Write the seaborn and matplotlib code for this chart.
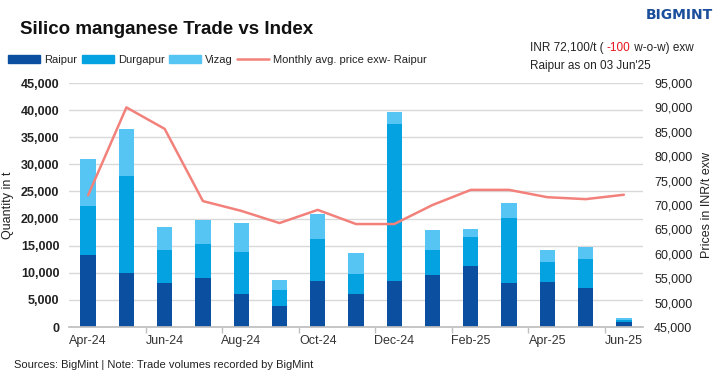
import seaborn as sns
import pandas as pd
import matplotlib.pyplot as plt
from matplotlib.patches import Patch
from matplotlib.lines import Line2D
from matplotlib.ticker import FuncFormatter

months = ["Apr-24", "May-24", "Jun-24", "Jul-24", "Aug-24", "Sep-24", "Oct-24", "Nov-24",
          "Dec-24", "Jan-25", "Feb-25", "Mar-25", "Apr-25", "May-25", "Jun-25"]
raipur = [13300, 10000, 8100, 9000, 6100, 3900, 8500, 6100, 8500, 9600, 11300, 8100, 8300, 7200, 1000]
durgapur = [9000, 17900, 6100, 6300, 7700, 2900, 7700, 3700, 29000, 4600, 5300, 12000, 3700, 5300, 300]
vizag = [8700, 8600, 4300, 4400, 5400, 1900, 4600, 3900, 2200, 3700, 1500, 2800, 2200, 2300, 300]
price = [72000, 90000, 85600, 70800, 68800, 66300, 69000, 66100, 66100, 70000, 73100, 73100, 71600, 71200, 72100]

c_raipur = "#0A4FA0"
c_durg = "#04A2E0"
c_vizag = "#56C5F3"
c_line = "#F3817B"

sns.set_theme(style="white")
plt.rcParams["font.family"] = ["Liberation Sans", "DejaVu Sans"]

df = pd.DataFrame({"month": months, "raipur": raipur, "durgapur": durgapur, "vizag": vizag, "price": price})
df["rd"] = df["raipur"] + df["durgapur"]
df["total"] = df["rd"] + df["vizag"]

fig = plt.figure(figsize=(7.2, 3.77), dpi=100)
ax = fig.add_axes([69 / 720, 1 - 327 / 377, (643 - 69) / 720, (327 - 83) / 377])

sns.barplot(data=df, x="month", y="total", color=c_vizag, width=0.4, saturation=1, linewidth=0, ax=ax)
sns.barplot(data=df, x="month", y="rd", color=c_durg, width=0.4, saturation=1, linewidth=0, ax=ax)
sns.barplot(data=df, x="month", y="raipur", color=c_raipur, width=0.4, saturation=1, linewidth=0, ax=ax)

ax.set_ylim(0, 45000)
ax.set_yticks(range(0, 45001, 5000))
ax.yaxis.set_major_formatter(FuncFormatter(lambda v, p: f"{int(v):,}"))
ax.grid(axis="y", color="#d9d9d9", linewidth=1)
ax.set_axisbelow(True)
for s in ["top", "right", "left"]:
    ax.spines[s].set_visible(False)
ax.spines["bottom"].set_color("#bfbfbf")
ax.set_xlim(-0.5, len(months) - 0.5)
ax.set_xticks(range(0, len(months), 2))
ax.set_xticklabels(months[::2])
ax.set_xticks([i + 1.5 for i in range(0, len(months) - 2, 2)], minor=True)
ax.tick_params(axis="x", which="major", length=0, labelsize=9, colors="#333333", pad=6)
ax.tick_params(axis="x", which="minor", length=4, color="#bfbfbf", bottom=True)
ax.tick_params(axis="y", length=0, labelsize=9, colors="#222222", pad=7)
for lab in ax.get_yticklabels():
    lab.set_fontweight("bold")
ax.set_xlabel("")
ax.set_ylabel("Quantity in t", fontsize=9, color="#222222", labelpad=5)

ax2 = ax.twinx()
sns.lineplot(x=df.index, y=df["price"], color=c_line, linewidth=1.8, ax=ax2)
ax2.set_ylim(45000, 95000)
ax2.set_yticks(range(45000, 95001, 5000))
ax2.yaxis.set_major_formatter(FuncFormatter(lambda v, p: f"{int(v):,}"))
ax2.tick_params(axis="y", length=0, labelsize=9, colors="#222222", pad=8)
for s in ["top", "right", "left", "bottom"]:
    ax2.spines[s].set_visible(False)
ax2.set_ylabel("Prices in INR/t exw", fontsize=9, color="#222222", labelpad=6)
ax2.set_xlim(-0.5, len(months) - 0.5)

fig.text(20 / 720, 1 - 30 / 377, "Silico manganese Trade vs Index", fontsize=13.5,
         fontweight="bold", va="center", ha="left", color="#111111")

handles = [Patch(color=c_raipur), Patch(color=c_durg), Patch(color=c_vizag),
           Line2D([0], [0], color=c_line, linewidth=1.8)]
fig.legend(handles, ["Raipur", "Durgapur", "Vizag", "Monthly avg. price exw- Raipur"],
           loc="center left", bbox_to_anchor=(8 / 720, 1 - 60 / 377), ncol=4, frameon=False,
           fontsize=8, handlelength=2.9, handleheight=0.7, handletextpad=0.35,
           columnspacing=0.4, labelcolor="#222222", borderpad=0, borderaxespad=0)

# annotation with red change value
fig.canvas.draw()
r = fig.canvas.get_renderer()
x0 = 530 / 720
yy = 1 - 48 / 377
parts = [("INR 72,100/t ( ", "#222222"), ("-100", "#E8121B"), (" w-o-w) exw", "#222222")]
for txt, col in parts:
    t = fig.text(x0, yy, txt, fontsize=8.5, color=col, va="center", ha="left")
    bb = t.get_window_extent(renderer=r)
    x0 += bb.width / fig.bbox.width
fig.text(530 / 720, 1 - 66 / 377, "Raipur as on 03 Jun'25", fontsize=8.5, color="#222222",
         va="center", ha="left")

fig.text(713 / 720, 1 - 15 / 377, "BIGMINT", fontsize=10, fontweight="bold", color="#1B4F9C",
         va="center", ha="right", family=["DejaVu Sans"])
fig.text(14 / 720, 1 - 365 / 377, "Sources: BigMint | Note: Trade volumes recorded by BigMint",
         fontsize=8, color="#222222", va="center", ha="left")

fig.savefig("out.png", dpi=100)
